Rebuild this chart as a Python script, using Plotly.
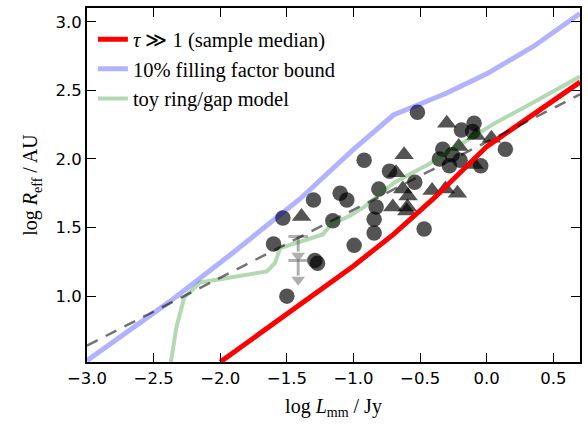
import plotly.graph_objects as go

# ---- data ----
circle_x = [-1.53, -1.60, -1.50, -1.29, -1.27, -1.30, -1.10, -1.05, -1.155, -0.995,
            -0.92, -0.845, -0.845, -0.83, -0.81, -0.73, -0.54, -0.47, -0.52, -0.33,
            -0.355, -0.26, -0.20, -0.28, -0.19, -0.095, -0.105, -0.045, 0.14]
circle_y = [1.57, 1.38, 1.00, 1.26, 1.24, 1.70, 1.75, 1.70, 1.55, 1.37,
            1.99, 1.56, 1.46, 1.65, 1.78, 1.91, 1.83, 1.49, 2.34, 2.07,
            2.00, 2.03, 1.99, 1.95, 2.21, 2.26, 2.20, 1.95, 2.07]

tri_x = [-1.39, -0.62, -0.68, -0.63, -0.59, -0.705, -0.595, -0.60, -0.41, -0.31,
         -0.22, -0.30, -0.21, -0.08, 0.035, -0.095]
tri_y = [1.58, 2.03, 1.90, 1.78, 1.73, 1.65, 1.65, 1.62, 1.77, 1.78,
         1.75, 2.26, 2.09, 2.17, 2.15, 1.96]

ul_x = [-1.415, -1.415]
ul_y = [1.435, 1.26]
ul_len = 0.14

red_x = [-2.0, -1.5, -1.0, -0.7, -0.4, 0.0, 0.3, 0.7]
red_y = [0.52, 0.87, 1.22, 1.45, 1.71, 2.09, 2.29, 2.56]

blue_x = [-3.0, -2.38, -1.9, -1.4, -1.0, -0.85, -0.7, -0.55, -0.3, 0.0, 0.35, 0.7]
blue_y = [0.53, 0.96, 1.32, 1.71, 2.07, 2.20, 2.32, 2.38, 2.48, 2.62, 2.82, 3.06]

green_x = [-2.37, -2.33, -2.27, -2.15, -1.65, -1.59, -1.55, -1.42, -1.23, -1.17,
           -1.02, -0.92, -0.69, -0.44, -0.19, 0.06, 0.27, 0.7]
green_y = [0.52, 0.77, 0.99, 1.10, 1.18, 1.24, 1.35, 1.39, 1.45, 1.52,
           1.59, 1.65, 1.83, 1.96, 2.11, 2.26, 2.37, 2.60]

dash_x = [-3.0, 0.7]
dash_y = [0.64, 2.47]

x_ticks = [-3.0, -2.5, -2.0, -1.5, -1.0, -0.5, 0.0, 0.5]
y_ticks = [1.0, 1.5, 2.0, 2.5, 3.0]

fig = go.Figure()

PT = 'rgba(0,0,0,0.67)'
fig.add_trace(go.Scatter(x=circle_x, y=circle_y, mode='markers', showlegend=False,
                         marker=dict(symbol='circle', size=15.5, color=PT, line=dict(width=0))))
fig.add_trace(go.Scatter(x=tri_x, y=tri_y, mode='markers', showlegend=False,
                         marker=dict(symbol='triangle-up', size=17, color=PT, line=dict(width=0))))

UL = 'rgba(110,110,110,0.55)'
for ux, uy in zip(ul_x, ul_y):
    fig.add_trace(go.Scatter(x=[ux, ux], y=[uy, uy - ul_len + 0.03], mode='lines', showlegend=False,
                             line=dict(color=UL, width=3)))
    fig.add_trace(go.Scatter(x=[ux], y=[uy], mode='markers', showlegend=False,
                             marker=dict(symbol='line-ew', size=14, line=dict(color=UL, width=3))))
    fig.add_trace(go.Scatter(x=[ux], y=[uy - ul_len], mode='markers', showlegend=False,
                             marker=dict(symbol='triangle-down', size=12, color=UL, line=dict(width=0))))

fig.add_trace(go.Scatter(x=green_x, y=green_y, mode='lines', name='toy ring/gap model',
                         legendrank=3, line=dict(color='rgba(0,128,0,0.3)', width=4)))
fig.add_trace(go.Scatter(x=blue_x, y=blue_y, mode='lines', name='10% filling factor bound',
                         legendrank=2, line=dict(color='rgba(0,0,255,0.3)', width=5)))
fig.add_trace(go.Scatter(x=red_x, y=red_y, mode='lines', name='<i>τ</i> ≫ 1 (sample median)',
                         legendrank=1, line=dict(color='#ff0000', width=5)))
fig.add_trace(go.Scatter(x=dash_x, y=dash_y, mode='lines', showlegend=False,
                         line=dict(color='rgba(0,0,0,0.55)', width=2.5, dash='12px,9px')))

axis_common = dict(showline=True, linecolor='black', linewidth=2, mirror='ticks',
                   ticks='inside', ticklen=9, tickwidth=1.3, tickcolor='black',
                   showgrid=False, zeroline=False,
                   tickfont=dict(family='DejaVu Sans', size=16.5, color='black'))

fig.update_layout(
    width=588, height=424,
    margin=dict(l=87, r=6, t=6, b=62),
    plot_bgcolor='white', paper_bgcolor='white',
    xaxis=dict(range=[-3.0, 0.7], tickvals=x_ticks,
               ticktext=[('−' if v < 0 else '') + f'{abs(v):.1f}' for v in x_ticks],
               title=dict(text='log <i>L</i><sub>mm</sub> / Jy', standoff=12,
                          font=dict(family='Liberation Serif', size=20, color='black')),
               **axis_common),
    yaxis=dict(range=[0.52, 3.1], tickvals=y_ticks,
               ticktext=[f'{v:.1f}' for v in y_ticks],
               title=dict(text='log <i>R</i><sub>eff</sub> / AU', standoff=12,
                          font=dict(family='Liberation Serif', size=20, color='black')),
               **axis_common),
    legend=dict(x=0.012, y=0.968, xanchor='left', yanchor='top', bgcolor='rgba(0,0,0,0)',
                font=dict(family='Liberation Serif', size=20.5, color='black'),
                itemwidth=30, tracegroupgap=0),
)

fig.write_html('out.html', post_script="document.body.style.margin='0';",
               config={'displayModeBar': False})
